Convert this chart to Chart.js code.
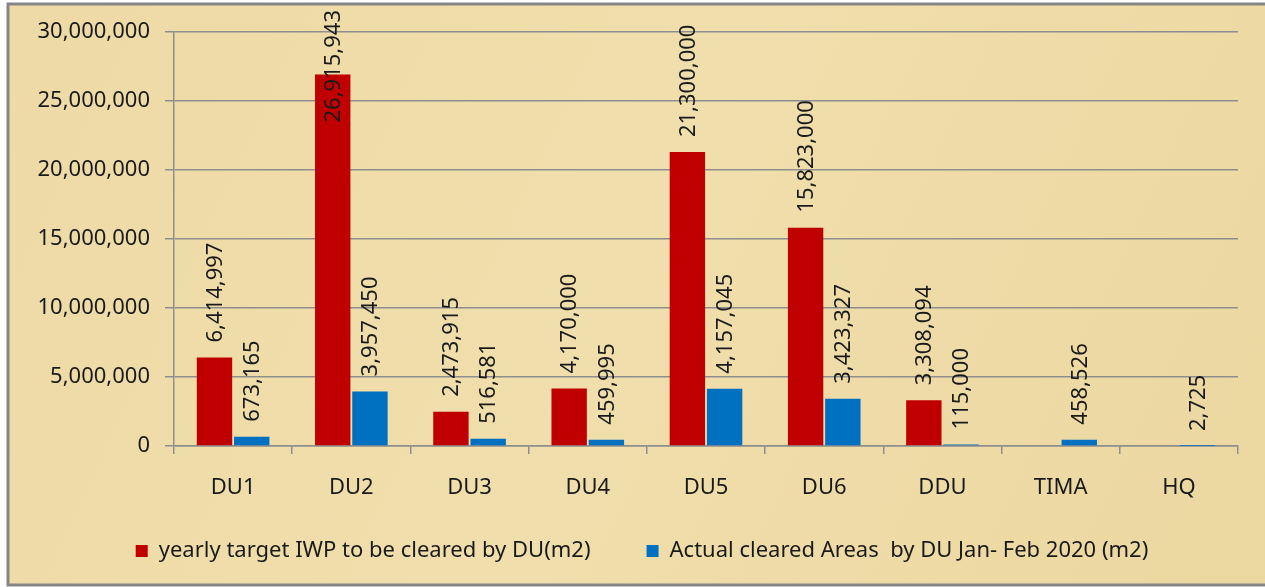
<!DOCTYPE html>
<html>
<head>
<meta charset="utf-8">
<script src="https://cdn.jsdelivr.net/npm/chart.js@4"></script>
<style>
  html, body { margin: 0; padding: 0; background: #ffffff; }
  canvas { display: block; }
</style>
</head>
<body>
<canvas id="c" width="1265" height="587"></canvas>
<script>
const categories = ['DU1', 'DU2', 'DU3', 'DU4', 'DU5', 'DU6', 'DDU', 'TIMA', 'HQ'];
const yearlyTarget = [6414997, 26915943, 2473915, 4170000, 21300000, 15823000, 3308094, null, null];
const actualCleared = [673165, 3957450, 516581, 459995, 4157045, 3423327, 115000, 458526, 2725];
const seriesNames = ['yearly target IWP to be cleared by DU(m2)', 'Actual cleared Areas  by DU Jan- Feb 2020 (m2)'];
const yTicks = [0, 5000000, 10000000, 15000000, 20000000, 25000000, 30000000];

const FONT = '"Noto Sans", "Open Sans", sans-serif';
const fmt = v => Number(v).toLocaleString('en-US');

const backgroundPlugin = {
  id: 'papyrus',
  beforeDraw(chart) {
    const ctx = chart.ctx;
    ctx.save();
    ctx.fillStyle = '#ffffff';
    ctx.fillRect(0, 0, chart.width, chart.height);
    const g = ctx.createLinearGradient(0, 0, chart.width, chart.height);
    g.addColorStop(0, '#EDDAA6');
    g.addColorStop(0.5, '#F0DEAC');
    g.addColorStop(1, '#EBD7A0');
    ctx.fillStyle = g;
    ctx.fillRect(8, 4, chart.width - 8, 581);
    ctx.strokeStyle = '#858585';
    ctx.lineWidth = 3;
    ctx.strokeRect(8, 4, chart.width + 10, 581);
    ctx.restore();
  }
};

const legendPlacePlugin = {
  id: 'legendPlace',
  afterLayout(chart) {
    const lg = chart.legend;
    if (lg) {
      const h = lg.bottom - lg.top;
      lg.top = 484;
      lg.bottom = 484 + h;
      lg.left += 18;
      lg.right += 18;
    }
  }
};

const labelPlugin = {
  id: 'vlabels',
  afterDatasetsDraw(chart) {
    const ctx = chart.ctx;
    ctx.save();
    ctx.font = '22px ' + FONT;
    ctx.fillStyle = '#1a1a1a';
    ctx.textAlign = 'left';
    ctx.textBaseline = 'middle';
    chart.data.datasets.forEach((ds, di) => {
      const meta = chart.getDatasetMeta(di);
      meta.data.forEach((bar, i) => {
        const v = ds.data[i];
        if (v === null || v === undefined) return;
        const txt = fmt(v);
        const w = ctx.measureText(txt).width;
        let start = bar.y - 15;
        if (start - w < 10) start = 10 + w;
        ctx.save();
        ctx.translate(bar.x + 1, start);
        ctx.rotate(-Math.PI / 2);
        ctx.fillText(txt, 0, 0);
        ctx.restore();
      });
    });
    ctx.restore();
  }
};

new Chart(document.getElementById('c'), {
  type: 'bar',
  data: {
    labels: categories,
    datasets: [
      { label: seriesNames[0], data: yearlyTarget, backgroundColor: '#C00000', borderWidth: 0,
        barPercentage: 0.95, categoryPercentage: 0.63 },
      { label: seriesNames[1], data: actualCleared, backgroundColor: '#0070C0', borderWidth: 0,
        barPercentage: 0.95, categoryPercentage: 0.63 }
    ]
  },
  options: {
    responsive: false,
    devicePixelRatio: 1,
    animation: false,
    layout: { padding: { left: 10, right: 27, top: 32, bottom: 0 } },
    plugins: {
      tooltip: { enabled: false },
      legend: {
        position: 'bottom',
        maxHeight: 87,
        labels: {
          boxWidth: 12, boxHeight: 12, padding: 56,
          color: '#1a1a1a',
          font: { family: FONT, size: 22 }
        }
      }
    },
    scales: {
      x: {
        afterFit(scale) { scale.height = 54; },
        grid: { offset: true, drawOnChartArea: false, drawTicks: true, tickLength: 8, color: '#8E8E8E', lineWidth: 1.5 },
        border: { display: true, color: '#8E8E8E', width: 1.5 },
        ticks: { color: '#1a1a1a', padding: 21, font: { family: FONT, size: 22 } }
      },
      y: {
        min: 0, max: 30000000,
        afterFit(scale) { scale.width = 164; },
        afterBuildTicks(scale) { scale.ticks = yTicks.map(v => ({ value: v })); },
        grid: { color: '#8E8E8E', lineWidth: 1.5, tickLength: 9, drawTicks: true },
        border: { display: true, color: '#8E8E8E', width: 1.5 },
        ticks: { color: '#1a1a1a', padding: 15, font: { family: FONT, size: 22 }, callback: v => fmt(v) }
      }
    }
  },
  plugins: [backgroundPlugin, legendPlacePlugin, labelPlugin]
});
</script>
</body>
</html>
